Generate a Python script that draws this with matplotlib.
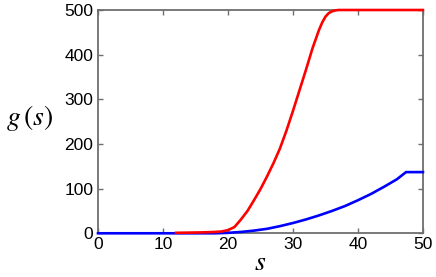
import matplotlib
matplotlib.use("Agg")
import matplotlib.pyplot as plt

# red curve (upper)
red_s = [12, 14, 16, 18, 19, 20, 21, 22, 23, 24, 25, 26, 27, 28, 29, 30, 31, 32, 33, 34, 34.5, 35, 35.5, 36, 36.5, 37, 50]
red_g = [1, 1.5, 2, 3, 4, 7, 14, 31, 50, 74, 99, 127, 157, 190, 230, 274, 320, 366, 414, 455, 472, 485, 493, 497, 499, 500, 500]

# blue curve (lower)
blue_s = [0, 18, 20, 22, 24, 26, 28, 30, 32, 34, 36, 38, 40, 42, 44, 46, 47.4, 50]
blue_g = [0, 0, 1, 3, 6, 10, 16, 23, 31, 40, 50, 61, 74, 88, 104, 121, 137, 137]

x_ticks = [0, 10, 20, 30, 40, 50]
y_ticks = [0, 100, 200, 300, 400, 500]

plt.rcParams["mathtext.fontset"] = "stix"
plt.rcParams["font.family"] = ["Liberation Sans", "DejaVu Sans"]

fig = plt.figure(figsize=(4.36, 2.77), dpi=100)
ax = fig.add_axes([0.2248, 0.1578, 0.7452, 0.8061])

ax.plot(blue_s, blue_g, color="#0000ff", lw=1.9, clip_on=False, zorder=3)
ax.plot(red_s, red_g, color="#ff0000", lw=1.9, clip_on=False, zorder=4)

ax.set_xlim(0, 50)
ax.set_ylim(0, 500)
ax.set_xticks(x_ticks)
ax.set_yticks(y_ticks)

spine_col = "#6e6e6e"
for sp in ax.spines.values():
    sp.set_color(spine_col)
    sp.set_linewidth(1.3)
ax.tick_params(direction="in", length=3.5, width=1.0, color=spine_col,
               top=True, right=True, labelsize=12.5)
ax.tick_params(axis="x", pad=2.5)
ax.tick_params(axis="y", pad=3.5)

ax.set_xlabel(r"$s$", fontsize=20, va="center")
ax.xaxis.set_label_coords(0.5, -0.135)
ax.set_ylabel(r"$g\,(s)$", fontsize=20, rotation=0, ha="center", va="center")
ax.yaxis.set_label_coords(-0.21, 0.516)

fig.savefig("out.png", dpi=100)
